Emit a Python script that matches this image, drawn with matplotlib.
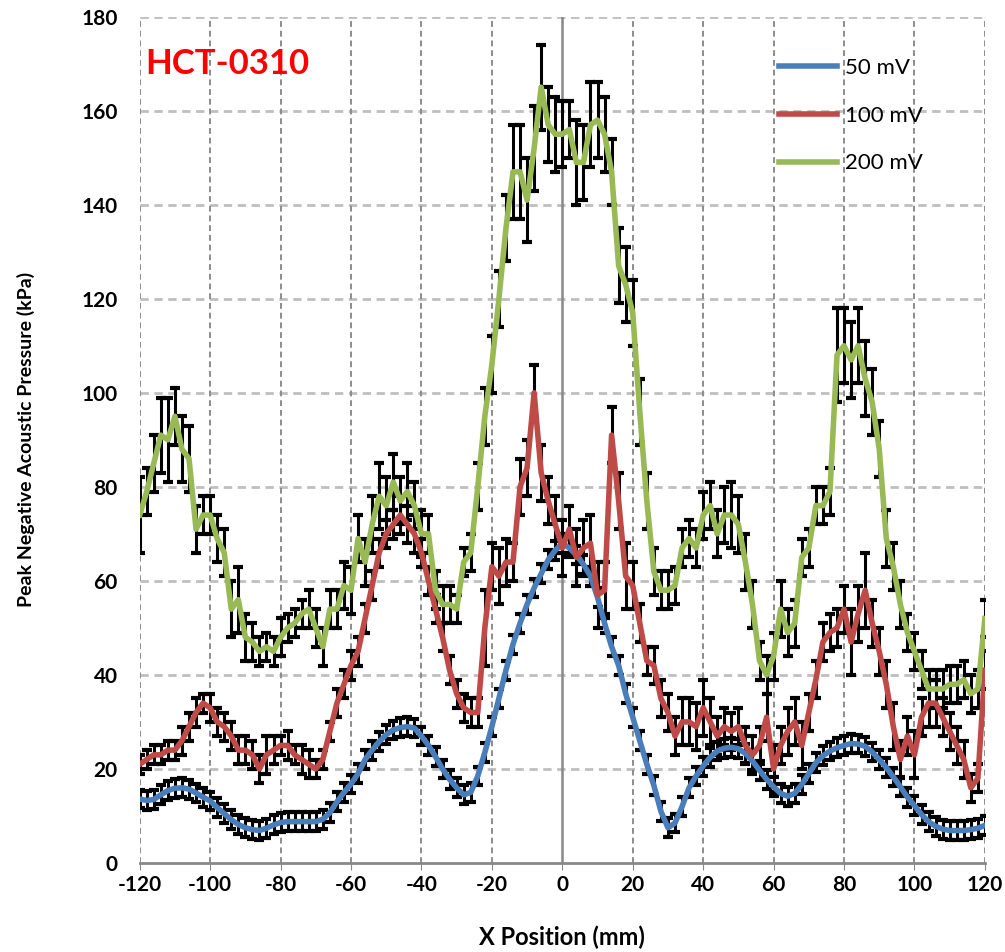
import numpy as np
import matplotlib
matplotlib.use("Agg")
import matplotlib.pyplot as plt

plt.rcParams['font.family'] = ['Lato', 'DejaVu Sans']

# x positions (mm), one sample every 2 mm
x_pos = np.arange(-120, 121, 2)

# 50 mV
p50 = [13.6, 13.3, 13.5, 14.5, 15.4, 15.9, 16.0, 15.7, 14.9, 14.0,
       13.2, 11.8, 10.5, 9.2, 8.2, 7.5, 7.1, 6.9, 7.4, 8.1,
       8.6, 8.8, 8.8, 8.8, 8.8, 8.8, 9.3, 10.7, 13.0, 15.0,
       16.8, 19.0, 22.0, 24.0, 25.8, 27.3, 28.3, 28.8, 29.0, 28.7,
       27.0, 25.0, 22.6, 20.0, 17.8, 16.0, 14.5, 15.0, 18.5, 23.5,
       29.0, 35.0, 41.0, 46.5, 51.0, 55.0, 58.5, 61.5, 64.5, 66.5,
       68.0, 67.0, 65.5, 63.5, 61.0, 56.5, 51.0, 46.0, 42.0, 36.0,
       31.0, 26.0, 21.0, 16.5, 11.0, 7.5, 8.5, 12.0, 16.0, 18.5,
       20.6, 22.5, 23.8, 24.4, 24.6, 24.3, 23.3, 21.7, 19.7, 17.8,
       16.2, 14.8, 14.2, 14.8, 16.7, 19.0, 21.3, 22.8, 23.8, 24.5,
       25.0, 25.4, 25.3, 24.8, 23.6, 22.0, 20.3, 18.3, 16.2, 14.0,
       12.2, 10.3, 8.8, 7.8, 7.2, 6.9, 6.9, 6.9, 7.1, 7.4,
       8.0]
e50 = [2.0] * len(p50)

# 100 mV
p100 = [21, 22, 23, 23, 24, 24, 26, 29, 32, 34,
        33, 30, 29, 27, 24, 24, 23, 20, 23, 24,
        25, 25, 23, 22, 21, 20, 22, 28, 34, 38,
        42, 45, 52, 59, 66, 70, 72, 74, 72, 70,
        66, 60, 54, 48, 41, 36, 33, 32, 32, 50,
        63, 61, 64, 64, 80, 84, 100, 83, 77, 72,
        67, 71, 65, 67, 68, 57, 58, 91, 77, 61,
        59, 51, 43, 42, 35, 32, 27, 30, 30, 29,
        33, 30, 27, 29, 28, 29, 25, 23, 25, 31,
        20, 25, 28, 30, 25, 32, 39, 47, 49, 50,
        54, 47, 53, 58, 51, 45, 38, 29, 22, 27,
        23, 31, 34, 34, 31, 28, 25, 22, 16, 18,
        41]
e100 = [2, 2, 2, 2, 2, 2, 3, 3, 3, 2,
        3, 3, 3, 3, 3, 3, 3, 3, 4, 3,
        2, 3, 2, 3, 3, 2, 2, 2, 3, 3,
        3, 3, 3, 3, 3, 3, 3, 4, 4, 4,
        3, 3, 3, 3, 3, 3, 3, 3, 3, 8,
        5, 6, 5, 4, 6, 6, 6, 6, 5, 6,
        6, 5, 6, 6, 6, 7, 6, 6, 6, 7,
        5, 4, 3, 4, 4, 4, 4, 5, 5, 5,
        6, 5, 4, 4, 4, 4, 4, 4, 4, 5,
        5, 4, 5, 5, 5, 4, 4, 4, 4, 4,
        5, 7, 6, 8, 5, 5, 5, 5, 4, 4,
        5, 4, 5, 5, 4, 4, 4, 4, 3, 3,
        4]

# 200 mV
p200 = [74, 79, 85, 91, 90, 95, 88, 86, 71, 74,
        74, 69, 66, 54, 56, 48, 47, 45, 46, 45,
        48, 50, 51, 53, 54, 50, 46, 54, 54, 59,
        58, 69, 64, 72, 78, 76, 81, 77, 79, 76,
        70, 70, 58, 55, 55, 54, 64, 66, 80, 95,
        106, 120, 135, 147, 147, 141, 152, 165, 157, 155,
        155, 156, 149, 149, 157, 158, 155, 147, 127, 123,
        117, 96, 77, 62, 58, 58, 59, 67, 69, 67,
        74, 76, 70, 74, 74, 72, 64, 55, 43, 40,
        44, 54, 49, 51, 65, 67, 76, 76, 79, 108,
        110, 107, 110, 103, 98, 88, 69, 63, 55, 49,
        45, 41, 37, 37, 37, 38, 38, 39, 36, 37,
        52]
e200 = [8, 5, 6, 8, 9, 6, 7, 7, 5, 4,
        4, 5, 5, 6, 7, 5, 4, 3, 3, 3,
        4, 3, 3, 3, 4, 4, 4, 4, 4, 5,
        5, 5, 5, 6, 7, 6, 6, 5, 6, 5,
        5, 4, 4, 4, 4, 3, 3, 4, 5, 6,
        6, 6, 7, 10, 10, 9, 9, 9, 8, 8,
        7, 6, 9, 8, 9, 8, 8, 7, 8, 8,
        7, 7, 6, 5, 4, 4, 4, 4, 4, 4,
        5, 5, 5, 6, 7, 6, 6, 5, 4, 4,
        5, 6, 5, 5, 4, 4, 4, 4, 5, 10,
        8, 8, 8, 8, 7, 6, 6, 5, 5, 4,
        4, 4, 4, 4, 4, 4, 4, 4, 4, 4,
        4]

series = [
    ("50 mV", p50, e50, "#4a7ebb"),
    ("100 mV", p100, e100, "#be4b48"),
    ("200 mV", p200, e200, "#98b954"),
]

fig = plt.figure(figsize=(10.05, 9.52), dpi=100)
ax = fig.add_axes([0.139, 0.0935, 0.841, 0.889])

# grid: light dashed horizontals, darker dashed verticals
for yv in range(20, 181, 20):
    ax.axhline(yv, color="#bfbfbf", lw=2, ls=(0, (3, 2)), zorder=0)
for xv in range(-120, 121, 20):
    if xv == 0:
        ax.axvline(0, color="#888888", lw=1.8, zorder=0.5)
    else:
        ax.axvline(xv, color="#8c8c8c", lw=1.4, ls=(0, (3, 2)), zorder=0)

for name, vals, errs, col in series:
    ax.errorbar(x_pos, vals, yerr=errs, fmt="none", ecolor="black",
                elinewidth=2.2, capsize=3.5, capthick=3, zorder=2)
for name, vals, errs, col in series:
    ax.plot(x_pos, vals, color=col, lw=4, label=name, zorder=3,
            solid_joinstyle="round")

ax.set_xlim(-120, 120)
ax.set_ylim(0, 180)
xt = list(range(-120, 121, 20))
ax.set_xticks(xt)
ax.set_xticklabels([str(v) for v in xt])
ax.set_yticks(range(0, 181, 20))
ax.tick_params(axis="both", labelsize=15, color="#888888", length=5)
ax.tick_params(axis="y", length=0, pad=16)
for lab in ax.get_xticklabels() + ax.get_yticklabels():
    lab.set_fontweight("bold")

for s in ["top", "right", "left"]:
    ax.spines[s].set_visible(False)
ax.spines["bottom"].set_color("#888888")
ax.spines["bottom"].set_linewidth(2)

ax.set_xlabel("X Position (mm)", fontsize=17, fontweight="bold", labelpad=22)
ax.set_ylabel("Peak Negative Acoustic Pressure (kPa)", fontsize=14,
              fontweight="bold", labelpad=33)

ax.text(-118.5, 170, "HCT-0310", color="red", fontsize=25, fontweight="bold",
        va="center", ha="left")

leg = ax.legend(loc="upper right", bbox_to_anchor=(0.95, 0.975), frameon=False,
                fontsize=16, handlelength=2.6, labelspacing=1.25, handletextpad=0.35)
for h in leg.get_lines():
    h.set_linewidth(4)

plt.savefig("out.png", dpi=100)
plt.close()
